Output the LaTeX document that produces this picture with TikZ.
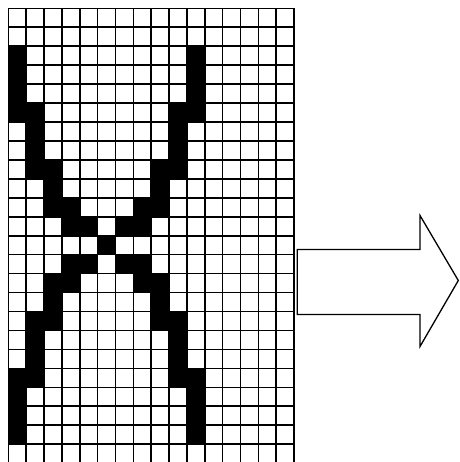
\documentclass[tikz,border=0pt]{standalone}
\usepackage{tikz}
\usetikzlibrary{matrix, positioning}

\begin{document}
\begin{tikzpicture}[x=1pt, y=1pt,
    bk/.style={fill=black}]
    \useasboundingbox (0,0) rectangle (459,-462);
    % pixel grid as matrix (16 x 24 cells)
    \matrix[matrix of nodes,
            column sep=-1.6pt,
            row sep=-1.6pt,
            inner sep=0pt,
            anchor=north west,
            nodes in empty cells,
            nodes={draw=black, line width=1.6pt, inner sep=0pt,
                   minimum width=17.86pt, minimum height=18.95pt},
            ampersand replacement=\&
        ] (grid) at (7.3,-7.3) {
         \& \& \& \& \& \& \& \& \& \& \& \& \& \& \& \\
         \& \& \& \& \& \& \& \& \& \& \& \& \& \& \& \\
        |[bk]| \& \& \& \& \& \& \& \& \& \& |[bk]| \& \& \& \& \& \\
        |[bk]| \& \& \& \& \& \& \& \& \& \& |[bk]| \& \& \& \& \& \\
        |[bk]| \& \& \& \& \& \& \& \& \& \& |[bk]| \& \& \& \& \& \\
        |[bk]| \& |[bk]| \& \& \& \& \& \& \& \& |[bk]| \& |[bk]| \& \& \& \& \& \\
         \& |[bk]| \& \& \& \& \& \& \& \& |[bk]| \& \& \& \& \& \& \\
         \& |[bk]| \& \& \& \& \& \& \& \& |[bk]| \& \& \& \& \& \& \\
         \& |[bk]| \& |[bk]| \& \& \& \& \& \& |[bk]| \& |[bk]| \& \& \& \& \& \& \\
         \& \& |[bk]| \& \& \& \& \& \& |[bk]| \& \& \& \& \& \& \& \\
         \& \& |[bk]| \& |[bk]| \& \& \& \& |[bk]| \& |[bk]| \& \& \& \& \& \& \& \\
         \& \& \& |[bk]| \& |[bk]| \& \& |[bk]| \& |[bk]| \& \& \& \& \& \& \& \& \\
         \& \& \& \& \& |[bk]| \& \& \& \& \& \& \& \& \& \& \\
         \& \& \& |[bk]| \& |[bk]| \& \& |[bk]| \& |[bk]| \& \& \& \& \& \& \& \& \\
         \& \& |[bk]| \& |[bk]| \& \& \& \& |[bk]| \& |[bk]| \& \& \& \& \& \& \& \\
         \& \& |[bk]| \& \& \& \& \& \& |[bk]| \& \& \& \& \& \& \& \\
         \& |[bk]| \& |[bk]| \& \& \& \& \& \& |[bk]| \& |[bk]| \& \& \& \& \& \& \\
         \& |[bk]| \& \& \& \& \& \& \& \& |[bk]| \& \& \& \& \& \& \\
         \& |[bk]| \& \& \& \& \& \& \& \& |[bk]| \& \& \& \& \& \& \\
        |[bk]| \& |[bk]| \& \& \& \& \& \& \& \& |[bk]| \& |[bk]| \& \& \& \& \& \\
        |[bk]| \& \& \& \& \& \& \& \& \& \& |[bk]| \& \& \& \& \& \\
        |[bk]| \& \& \& \& \& \& \& \& \& \& |[bk]| \& \& \& \& \& \\
        |[bk]| \& \& \& \& \& \& \& \& \& \& |[bk]| \& \& \& \& \& \\
         \& \& \& \& \& \& \& \& \& \& \& \& \& \& \& \\
    };

    % block arrow to the right of the grid
    \draw[line width=1.3pt, line join=miter]
        (297.3,-249.5) -- (420,-249.5) -- (420,-215.5) -- (458.3,-280.5)
        -- (420,-346.5) -- (420,-314.5) -- (297.3,-314.5) -- cycle;
\end{tikzpicture}
\end{document}
